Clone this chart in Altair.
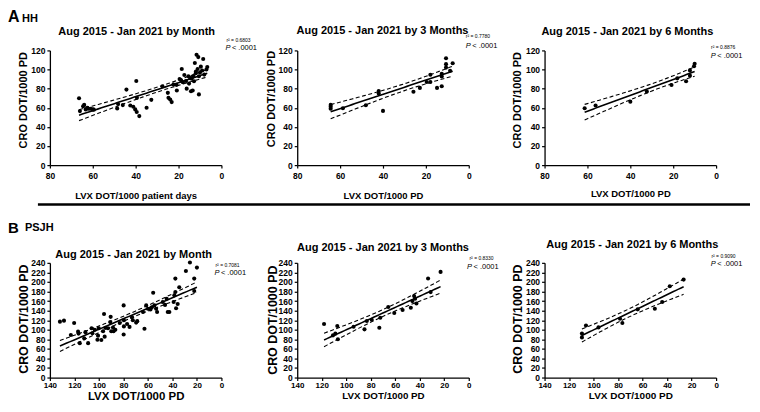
import altair as alt
import numpy as np
import pandas as pd

FONT = "Liberation Sans"

# ---------------- data ----------------
# A  HH, by month
hh_m_lvx = [66.4, 66.0, 64.5, 64.0, 63.3, 62.5, 62.0, 61.0, 60.0, 59.5,
            48.6, 48.2, 46.0, 44.3, 42.5, 41.1, 40.2, 39.5, 39.7, 39.4,
            38.3, 34.9, 32.7, 27.5, 25.0, 24.7, 23.9, 23.2, 22.4, 20.8,
            18.5, 18.8, 18.0, 17.3, 16.2, 15.4, 15.1, 14.2, 13.9, 13.1,
            12.8, 13.4, 12.4, 11.6, 10.8, 10.5, 11.1, 10.5, 9.6, 8.5,
            8.0, 7.0, 6.6, 11.9, 14.5, 12.0, 10.0, 9.0, 19.5, 21.0, 16.5]
hh_m_cro = [70.0, 56.5, 61.5, 63.0, 58.3, 60.0, 59.0, 59.0, 58.3, 58.0,
            59.3, 64.0, 62.8, 79.0, 62.4, 61.0, 58.3, 55.5, 88.0, 70.4,
            51.3, 60.0, 68.3, 82.5, 75.6, 70.4, 68.7, 65.9, 84.3, 78.0,
            100.6, 88.8, 86.7, 94.3, 80.0, 93.0, 85.3, 77.3, 90.5, 93.0,
            87.8, 78.0, 106.8, 115.5, 113.0, 74.0, 100.6, 93.0, 103.0, 111.0,
            94.7, 100.0, 102.7, 98.0, 91.0, 96.0, 97.0, 99.0, 90.0, 84.0, 88.0]

# A  HH, by 3 months
hh_q_lvx = [64.4, 64.4, 64.4, 58.7, 48.0, 42.0, 42.0, 40.0, 25.8, 22.8, 19.6,
            17.9, 17.9, 14.8, 12.6, 12.6, 12.6, 10.6, 10.6, 10.6, 8.7, 7.5]
hh_q_cro = [63.0, 61.0, 59.0, 59.5, 62.6, 77.5, 75.0, 56.7, 76.7, 80.8, 87.0,
            94.6, 87.0, 80.8, 82.5, 95.6, 92.8, 111.8, 105.6, 102.0, 98.7, 106.6]

# A  HH, by 6 months
hh_h_lvx = [61.3, 56.2, 40.0, 32.3, 20.8, 18.1, 14.0, 12.2, 12.2, 10.3, 10.0]
hh_h_cro = [59.5, 62.3, 66.4, 76.9, 83.8, 90.8, 87.7, 93.6, 99.1, 103.5, 106.0]

# B  PSJH, by month
ps_m_lvx = [131.8, 128.5, 122.9, 120.2, 117.0, 116.6, 115.6, 111.0, 108.8, 106.0,
            105.3, 103.4, 101.2, 100.7, 100.1, 95.8, 96.6, 95.3, 94.7, 90.7,
            90.4, 89.9, 88.0, 86.6, 83.0, 79.8, 79.6, 79.6, 79.8, 75.0,
            73.0, 72.3, 69.6, 62.8, 64.0, 61.4, 57.9, 56.8, 55.7, 54.7,
            53.3, 52.5, 47.9, 46.0, 43.8, 42.5, 39.0, 37.6, 37.6, 37.0,
            35.7, 34.4, 29.0, 25.7, 22.2, 22.2, 20.0, 112.0, 98.0, 92.6,
            88.5, 60.0, 44.7, 38.4, 68.7, 77.0]
ps_m_cro = [117.0, 119.0, 89.0, 114.0, 96.0, 92.0, 72.0, 95.0, 72.0, 103.0,
            92.6, 100.0, 79.0, 87.7, 103.0, 133.0, 97.0, 85.6, 104.0, 116.0,
            127.0, 97.0, 97.0, 100.0, 114.0, 151.0, 120.0, 107.0, 90.0, 106.0,
            126.0, 120.0, 115.0, 102.0, 137.0, 151.0, 142.5, 147.0, 177.5, 151.0,
            144.0, 137.0, 158.0, 152.0, 137.0, 137.0, 158.0, 207.0, 179.0, 145.0,
            154.0, 189.0, 223.0, 240.7, 207.0, 181.0, 230.0, 82.0, 78.6, 103.0,
            104.6, 144.0, 165.0, 172.0, 118.0, 112.0]

# B  PSJH, by 3 months
ps_q_lvx = [118.1, 110.8, 108.9, 107.3, 106.8, 94.0, 85.1, 83.2, 79.2, 73.0, 72.2,
            65.7, 60.8, 54.0, 47.3, 46.0, 44.6, 43.8, 42.7, 33.2, 31.1, 23.0]
ps_q_cro = [112.0, 88.3, 91.8, 107.8, 80.0, 106.4, 100.9, 118.3, 121.0, 104.3, 125.2,
            147.5, 135.0, 141.2, 146.0, 160.0, 170.4, 164.9, 155.0, 207.3, 178.8, 221.0]

# B  PSJH, by 6 months
ps_h_lvx = [109.5, 109.5, 106.2, 96.0, 78.4, 76.5, 64.0, 50.0, 44.0, 37.8, 26.5]
ps_h_cro = [92.0, 84.0, 109.0, 104.9, 123.0, 114.0, 142.7, 144.0, 158.0, 191.0, 205.0]

titles = ["Aug 2015 - Jan 2021 by Month", "Aug 2015 - Jan 2021 by 3 Months",
          "Aug 2015 - Jan 2021 by 6 Months"]
r2_labels = ["r\u00b2 = 0.6803", "r\u00b2 = 0.7780", "r\u00b2 = 0.8876",
             "r\u00b2 = 0.7081", "r\u00b2 = 0.8330", "r\u00b2 = 0.9090"]
p_label = "< .0001"
x_titles = ["LVX DOT/1000 patient days", "LVX DOT/1000 PD", "LVX DOT/1000 PD",
            "LVX DOT/1000 PD", "LVX DOT/1000 PD", "LVX DOT/1000 PD"]
y_title = "CRO DOT/1000 PD"
# two-sided 95% t quantiles for the confidence band of the fit
t_crit = [2.0, 2.086, 2.262, 2.0, 2.086, 2.262]

W, H = 172, 115


def text_layer(txt, x, y, size, weight="normal", style="normal", align="left"):
    return alt.Chart(pd.DataFrame({"t": [txt]})).mark_text(
        align=align, baseline="alphabetic", font=FONT, fontSize=size,
        fontWeight=weight, fontStyle=style, color="black"
    ).encode(x=alt.value(x), y=alt.value(y), text="t:N")


def panel(lvx, cro, tcrit, xmax, ymax, xtitle, cfg):
    x = np.asarray(lvx, float)
    y = np.asarray(cro, float)
    n = len(x)
    slope, icpt = np.polyfit(x, y, 1)
    xbar = x.mean()
    sxx = ((x - xbar) ** 2).sum()
    s = np.sqrt(((y - (icpt + slope * x)) ** 2).sum() / (n - 2))
    gx = np.linspace(x.min(), x.max(), 41)
    gy = icpt + slope * gx
    hw = tcrit * s * np.sqrt(1.0 / n + (gx - xbar) ** 2 / sxx)
    # one long table: the points and the three fitted curves share the same fields
    pts = pd.DataFrame({"lvx": x, "cro": y, "kind": "point"})
    fit = pd.concat([
        pd.DataFrame({"lvx": gx, "cro": gy, "kind": "fit"}),
        pd.DataFrame({"lvx": gx, "cro": gy - hw, "kind": "lo"}),
        pd.DataFrame({"lvx": gx, "cro": gy + hw, "kind": "hi"}),
    ], ignore_index=True)

    xscale = alt.Scale(domain=[0, xmax], reverse=True, nice=False)
    yscale = alt.Scale(domain=[0, ymax], nice=False)
    common = dict(grid=False, domainColor="black", domainWidth=1.3, tickColor="black",
                  tickWidth=1.2, tickSize=3, labelFont=FONT,
                  labelFontWeight="bold", labelColor="black", titleFont=FONT,
                  titleFontWeight="bold", titleColor="black", labelOverlap=False,
                  labelFlush=False, format="d")
    xaxis = alt.Axis(title=xtitle, values=list(range(0, xmax + 1, 20)),
                     labelPadding=cfg["xlp"], labelFontSize=cfg["xls"],
                     titleFontSize=cfg["xfs"], titleY=cfg["xty"],
                     titleBaseline="middle", **common)
    yaxis = alt.Axis(title=y_title, values=list(range(0, ymax + 1, 20)),
                     labelPadding=2, labelFontSize=8.5, titleFontSize=cfg["yfs"],
                     titleX=cfg["ytx"], titleY=cfg["yty"], titleBaseline="middle",
                     titleAlign="center", **common)
    X = alt.X("lvx:Q", scale=xscale, axis=xaxis)
    Y = alt.Y("cro:Q", scale=yscale, axis=yaxis)

    points = alt.Chart(pts).mark_circle(size=17, color="black", opacity=1).encode(x=X, y=Y)
    line = alt.Chart(fit).transform_filter(alt.datum.kind == "fit").mark_line(
        color="black", strokeWidth=1.6).encode(x=X, y=Y)
    band = alt.Chart(fit).transform_filter(alt.datum.kind != "fit").mark_line(
        color="black", strokeWidth=1.1, strokeDash=[4, 2.5]).encode(
        x=X, y=Y, detail="kind:N")

    layers = [points, band, line,
              text_layer(cfg["title"], cfg["tx"], cfg["ty"], 11, "bold", align="center"),
              text_layer(cfg["r2"], cfg["r2x"], cfg["r2y"], 5),
              text_layer("P", cfg["px"], cfg["py"], 7.5, style="italic"),
              text_layer(p_label, cfg["px"] + 6.5, cfg["py"], 7.5)]
    layers += cfg.get("extra", [])
    return alt.layer(*layers).properties(width=W, height=H)


separator = alt.Chart(pd.DataFrame({"a": [0]})).mark_rule(
    color="black", strokeWidth=2.5).encode(
    x=alt.value(-12), x2=alt.value(702), y=alt.value(-58.5))

cfgs = [
    dict(title=titles[0], tx=87, ty=-15.5, r2=r2_labels[0], r2x=177, r2y=-8, px=176, py=0,
         xlp=3.5, xls=8.5, xfs=9.5, xty=30, yfs=11, ytx=-26.5, yty=49.5,
         extra=[text_layer("A", -42, -28.5, 16, "bold"),
                text_layer("HH", -28, -28.7, 11, "bold")]),
    dict(title=titles[1], tx=85.5, ty=-16, r2=r2_labels[1], r2x=169, r2y=-12, px=169, py=-2.6,
         xlp=3.5, xls=8.5, xfs=9.5, xty=30, yfs=11, ytx=-25.5, yty=48.3),
    dict(title=titles[2], tx=83, ty=-15, r2=r2_labels[2], r2x=167, r2y=-1.2, px=166.7, py=8,
         xlp=3.5, xls=8.5, xfs=9.5, xty=28.7, yfs=11, ytx=-27, yty=49.5),
    dict(title=titles[0], tx=84, ty=-5, r2=r2_labels[3], r2x=166, r2y=4, px=165, py=12.4,
         xlp=0.5, xls=8, xfs=11.5, xty=19.5, yfs=12.5, ytx=-26, yty=56,
         extra=[separator,
                text_layer("B", -42, -30.3, 15, "bold"),
                text_layer("PSJH", -25, -31.7, 11, "bold")]),
    dict(title=titles[1], tx=86, ty=-11.5, r2=r2_labels[4], r2x=172.7, r2y=-2.5, px=170.3, py=5.7,
         xlp=0.5, xls=8, xfs=9.8, xty=18.5, yfs=12.5, ytx=-25, yty=57),
    dict(title=titles[2], tx=88, ty=-14.5, r2=r2_labels[5], r2x=167.3, r2y=-5, px=166.7, py=3.4,
         xlp=0.5, xls=8, xfs=10, xty=18.5, yfs=12.5, ytx=-27, yty=56),
]

series = [(hh_m_lvx, hh_m_cro, 80, 120), (hh_q_lvx, hh_q_cro, 80, 120),
          (hh_h_lvx, hh_h_cro, 80, 120), (ps_m_lvx, ps_m_cro, 140, 240),
          (ps_q_lvx, ps_q_cro, 140, 240), (ps_h_lvx, ps_h_cro, 140, 240)]

panels = [panel(lx, cy, t_crit[i], xm, ym, x_titles[i], cfgs[i])
          for i, (lx, cy, xm, ym) in enumerate(series)]

chart = alt.concat(*panels, columns=3, spacing={"row": 98, "column": 76},
                   bounds="flush").properties(
    padding=0, background="white"
).configure_view(stroke=None)

chart.save("out.html", embed_options={"renderer": "svg", "actions": False})
